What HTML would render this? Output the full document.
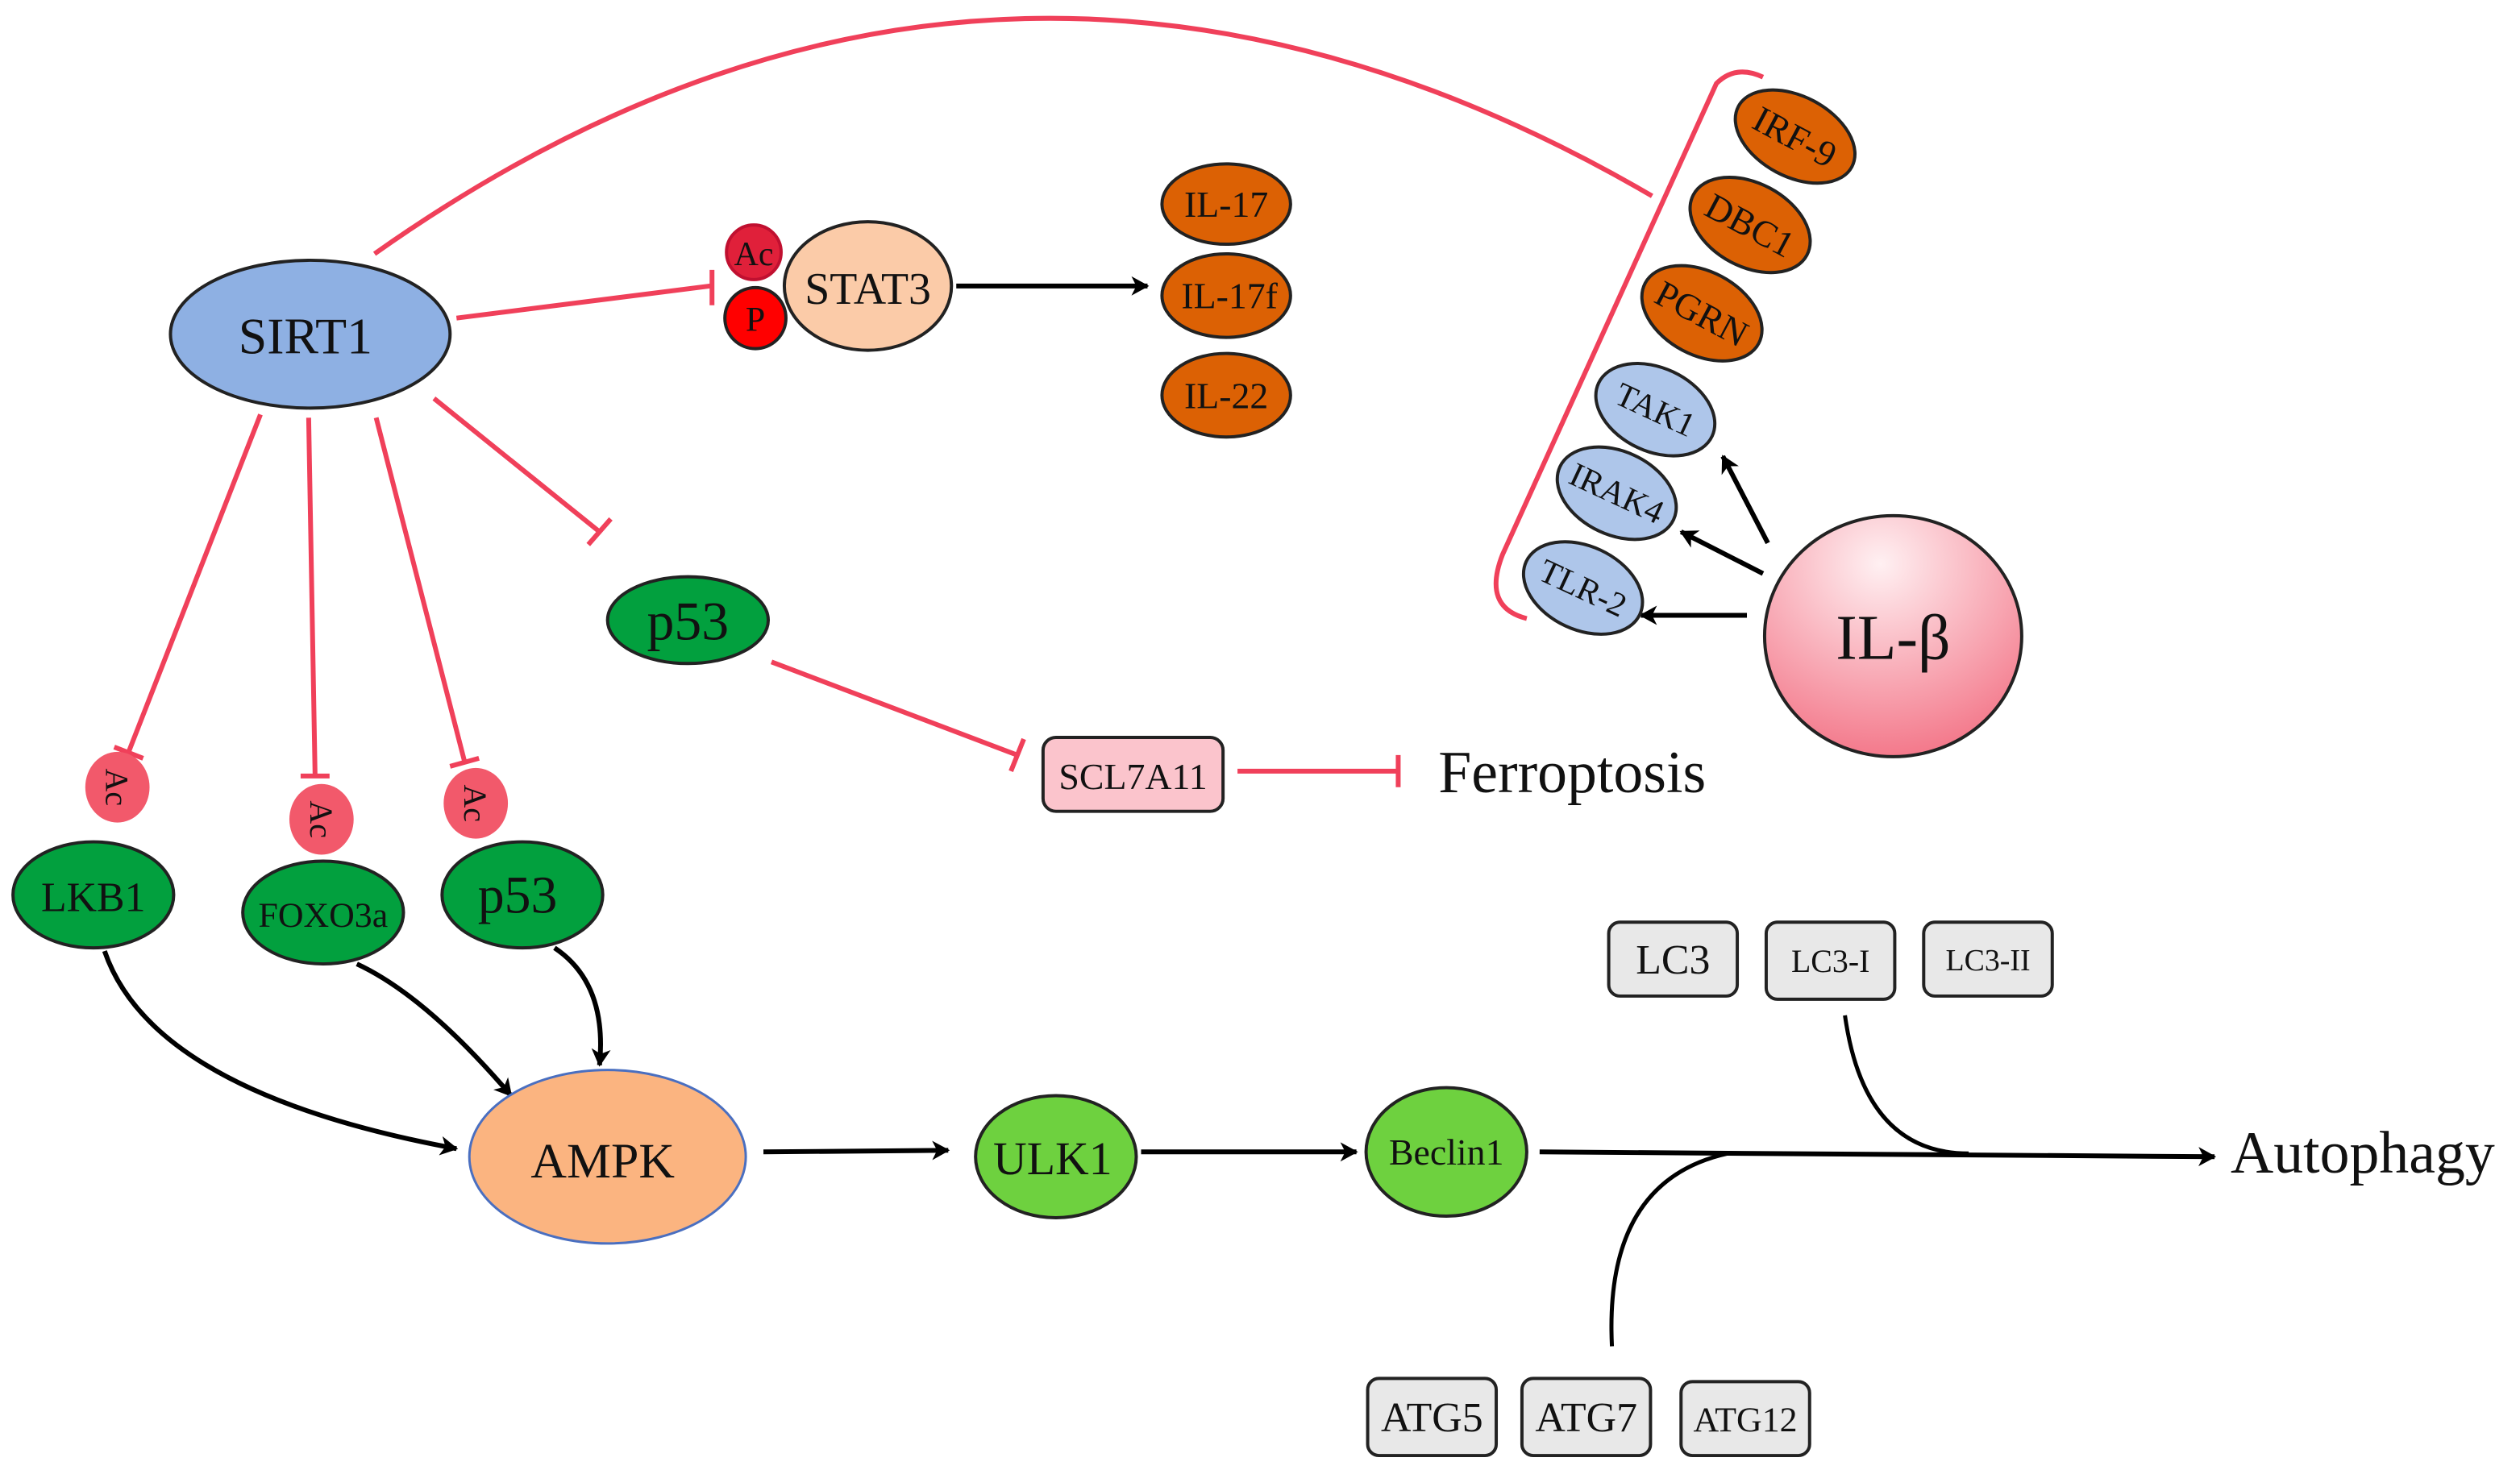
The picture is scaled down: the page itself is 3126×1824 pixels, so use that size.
<!DOCTYPE html>
<html><head><meta charset="utf-8"><style>
html,body{margin:0;padding:0;background:#fff}
svg{display:block}
text{font-family:"Liberation Serif",serif;fill:#111}
</style></head><body>
<svg width="3126" height="1824" viewBox="0 0 1568 915" xmlns="http://www.w3.org/2000/svg">
<defs>
<radialGradient id="ilb" cx="0.45" cy="0.2" r="0.9">
<stop offset="0" stop-color="#fff0f2"/><stop offset="1" stop-color="#f26a7e"/>
</radialGradient>
<marker id="ar" markerWidth="12" markerHeight="12" refX="10" refY="6" orient="auto" markerUnits="userSpaceOnUse">
<path d="M0,0 L11,6 L0,12 L3,6 z" fill="#000"/>
</marker>
</defs>
<g fill="none" stroke="#f0405a" stroke-width="3">
<path d="M233,158 Q620,-116 1028,122"/>
<path d="M1097,48 Q1080,40 1068,52 L935,345 Q922,378 950,385"/>
<line x1="284" y1="198" x2="442" y2="178"/><line x1="443" y1="168" x2="443" y2="190"/>
<line x1="162" y1="258" x2="80" y2="468"/><line x1="71" y1="465" x2="89" y2="472"/>
<line x1="192" y1="260" x2="196" y2="483"/><line x1="187" y1="483" x2="205" y2="483"/>
<line x1="234" y1="260" x2="289" y2="474"/><line x1="280" y1="477" x2="298" y2="472"/>
<line x1="270" y1="248" x2="373" y2="331"/><line x1="366" y1="339" x2="380" y2="323"/>
<line x1="480" y1="412" x2="633" y2="470"/><line x1="629" y1="480" x2="637" y2="460"/>
<line x1="770" y1="480" x2="870" y2="480"/><line x1="870" y1="470" x2="870" y2="490"/>
</g>
<g stroke="#000" stroke-width="3" fill="none" marker-end="url(#ar)">
<line x1="595" y1="178" x2="714" y2="178"/>
<line x1="1100" y1="338" x2="1072" y2="284"/>
<line x1="1097" y1="357" x2="1046" y2="331"/>
<line x1="1087" y1="383" x2="1021" y2="383"/>
<path d="M65,592 Q95,680 284,715"/>
<path d="M222,600 Q265,620 318,682"/>
<path d="M345,590 Q378,612 373,663"/>
<line x1="475" y1="717" x2="590" y2="716"/>
<line x1="710" y1="717" x2="844" y2="717"/>
<line x1="958" y1="717" x2="1378" y2="720"/>
</g>
<g stroke="#000" stroke-width="2.5" fill="none">
<path d="M1148,632 Q1160,718 1225,718"/>
<path d="M1003,838 Q998,735 1075,718"/>
</g>
<g stroke="#222" stroke-width="2">
<ellipse cx="193" cy="208" rx="87" ry="46" fill="#8eb0e3"/>
<ellipse cx="540" cy="178" rx="52" ry="40" fill="#fbcba8"/>
<circle cx="469" cy="157" r="17" fill="#e0203a" stroke="#c01030"/>
<circle cx="470" cy="198" r="19" fill="#f00"/>
<ellipse cx="763" cy="127" rx="40" ry="25" fill="#dc6104"/>
<ellipse cx="763" cy="184" rx="40" ry="26" fill="#dc6104"/>
<ellipse cx="763" cy="246" rx="40" ry="26" fill="#dc6104"/>
<ellipse cx="1117" cy="85" rx="40" ry="25" fill="#dc6104" transform="rotate(28 1117 85)"/>
<ellipse cx="1089" cy="140" rx="40" ry="26" fill="#dc6104" transform="rotate(28 1089 140)"/>
<ellipse cx="1059" cy="195" rx="40" ry="26" fill="#dc6104" transform="rotate(28 1059 195)"/>
<ellipse cx="1030" cy="255" rx="39" ry="26" fill="#aec6ea" transform="rotate(25 1030 255)"/>
<ellipse cx="1006" cy="307" rx="39" ry="26" fill="#aec6ea" transform="rotate(25 1006 307)"/>
<ellipse cx="985" cy="366" rx="39" ry="26" fill="#aec6ea" transform="rotate(25 985 366)"/>
<ellipse cx="1178" cy="396" rx="80" ry="75" fill="url(#ilb)"/>
<ellipse cx="428" cy="386" rx="50" ry="27" fill="#02a03e"/>
<rect x="649" y="459" width="112" height="46" rx="8" fill="#fbc4cc"/>
<ellipse cx="73" cy="490" rx="20" ry="22" fill="#f2596b" stroke="none"/>
<ellipse cx="200" cy="510" rx="20" ry="22" fill="#f2596b" stroke="none"/>
<ellipse cx="296" cy="500" rx="20" ry="22" fill="#f2596b" stroke="none"/>
<ellipse cx="58" cy="557" rx="50" ry="33" fill="#02a03e"/>
<ellipse cx="201" cy="568" rx="50" ry="32" fill="#02a03e"/>
<ellipse cx="325" cy="557" rx="50" ry="33" fill="#02a03e"/>
<ellipse cx="378" cy="720" rx="86" ry="54" fill="#fbb480" stroke="#4a6fc0" stroke-width="1.5"/>
<ellipse cx="657" cy="720" rx="50" ry="38" fill="#6ed13f"/>
<ellipse cx="900" cy="717" rx="50" ry="40" fill="#6ed13f"/>
<rect x="1001" y="574" width="80" height="46" rx="7" fill="#e8e8e8"/>
<rect x="1099" y="574" width="80" height="48" rx="7" fill="#e8e8e8"/>
<rect x="1197" y="574" width="80" height="46" rx="7" fill="#e8e8e8"/>
<rect x="851" y="858" width="80" height="48" rx="7" fill="#e8e8e8"/>
<rect x="947" y="858" width="80" height="48" rx="7" fill="#e8e8e8"/>
<rect x="1046" y="860" width="80" height="46" rx="7" fill="#e8e8e8"/>
</g>
<g text-anchor="middle">
<text x="190" y="220" font-size="32">SIRT1</text>
<text x="540" y="189" font-size="28">STAT3</text>
<text x="469" y="165" font-size="21">Ac</text>
<text x="470" y="206" font-size="22">P</text>
<text x="763" y="135" font-size="23">IL-17</text>
<text x="765" y="192" font-size="23">IL-17f</text>
<text x="763" y="254" font-size="23">IL-22</text>
<text x="1117" y="93" font-size="23" transform="rotate(28 1117 85)">IRF-9</text>
<text x="1089" y="148" font-size="23" transform="rotate(28 1089 140)">DBC1</text>
<text x="1059" y="203" font-size="23" transform="rotate(28 1059 195)">PGRN</text>
<text x="1030" y="262" font-size="21" transform="rotate(25 1030 255)">TAK1</text>
<text x="1006" y="314" font-size="21" transform="rotate(25 1006 307)">IRAK4</text>
<text x="985" y="373" font-size="21" transform="rotate(25 985 366)">TLR-2</text>
<text x="1178" y="410" font-size="40">IL-β</text>
<text x="428" y="398" font-size="34">p53</text>
<text x="705" y="491" font-size="23">SCL7A11</text>
<text x="73" y="497" font-size="20" transform="rotate(90 73 490)">Ac</text>
<text x="200" y="517" font-size="20" transform="rotate(90 200 510)">Ac</text>
<text x="296" y="507" font-size="20" transform="rotate(90 296 500)">Ac</text>
<text x="58" y="567" font-size="26">LKB1</text>
<text x="201" y="577" font-size="22">FOXO3a</text>
<text x="322" y="568" font-size="33">p53</text>
<text x="375" y="733" font-size="31">AMPK</text>
<text x="655" y="731" font-size="29">ULK1</text>
<text x="900" y="725" font-size="23">Beclin1</text>
<text x="1041" y="606" font-size="26">LC3</text>
<text x="1139" y="605" font-size="20">LC3-I</text>
<text x="1237" y="604" font-size="19">LC3-II</text>
<text x="891" y="891" font-size="26">ATG5</text>
<text x="987" y="891" font-size="26">ATG7</text>
<text x="1086" y="891" font-size="22">ATG12</text>
</g>
<text x="895" y="493" font-size="37">Ferroptosis</text>
<text x="1388" y="730" font-size="37">Autophagy</text>
</svg>
</body></html>
